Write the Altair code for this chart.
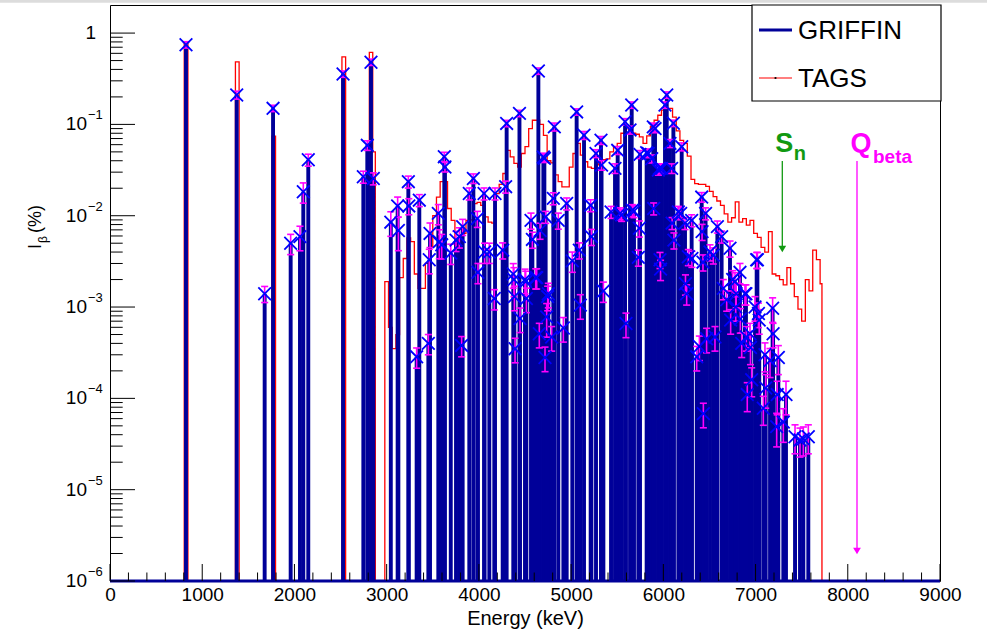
import altair as alt
import pandas as pd

FONT = "Liberation Sans"
NAVY = "#000099"
FLOOR = 1e-6

# ---------------- GRIFFIN beta feeding (energy keV, intensity %, relative error)
G_E = [824, 1374, 1677, 1768, 1959, 2060, 2096, 2150, 2527, 2747, 2790, 2830, 2855,
       3045, 3119, 3127, 3235, 3240, 3325, 3354, 3452, 3462, 3470, 3560, 3571, 3597,
       3625, 3632, 3695, 3752, 3788, 3813, 3824, 3896, 3940, 3983, 3990, 4056, 4062,
       4113, 4167, 4175, 4258, 4290, 4301, 4373, 4380, 4385, 4392, 4440, 4446, 4500,
       4508, 4515, 4565, 4580, 4616, 4627, 4645, 4655, 4663, 4699, 4710, 4717, 4724,
       4735, 4746, 4753, 4789, 4807, 4818, 4861, 4916, 4952, 5013, 5060, 5089, 5100,
       5140, 5212, 5220, 5270, 5324, 5330, 5350, 5433, 5476, 5505, 5530, 5548, 5585,
       5595, 5639, 5657, 5664, 5682, 5729, 5740, 5747, 5819, 5837, 5874, 5891, 5895,
       5910, 5946, 5957, 5964, 5970, 5982, 6018, 6037, 6072, 6090, 6095, 6109, 6115,
       6163, 6188, 6199, 6235, 6240, 6253, 6271, 6307, 6310, 6362, 6391, 6416, 6420,
       6430, 6434, 6458, 6469, 6506, 6542, 6560, 6586, 6632, 6650, 6687, 6723, 6730,
       6752, 6777, 6785, 6790, 6831, 6835, 6850, 6885, 6896, 6900, 6910, 6940, 6945,
       6958, 6994, 7012, 7020, 7031, 7040, 7084, 7102, 7110, 7157, 7185, 7190, 7229,
       7235, 7247, 7301, 7330, 7428, 7482, 7518, 7572]
G_I = [0.745, 0.21, 1.4e-3, 0.15, 5.0e-3, 5.9e-3, 0.0183, 0.041, 0.356, 0.0267, 0.059, 0.48, 0.0256,
       8.5e-3, 0.0128, 6.9e-3, 0.0236, 0.0128, 2.85e-4, 0.0148, 4.0e-4, 3.3e-3, 6.4e-3, 0.0106, 5.2e-3, 4.8e-3,
       0.0442, 0.0342, 3.9e-3, 5.4e-3, 5.9e-3, 3.8e-4, 7.6e-3, 0.0175, 0.0256, 9.3e-3, 2.4e-3, 0.0175, 4.0e-3,
       4.0e-3, 1.24e-3, 0.0175, 4.2e-3, 0.0208, 0.1025, 2.3e-3, 2.0e-3, 1.3e-3, 3.5e-4, 0.132, 7.5e-4, 2.0e-3,
       1.9e-3, 1.24e-3, 8.9e-3, 5.5e-3, 2.1e-3, 2.1e-3, 0.384, 5.1e-4, 6.9e-3, 0.044, 0.0425, 2.8e-4, 9.7e-3,
       7.8e-4, 1.3e-3, 1.4e-3, 4.7e-4, 0.0155, 0.094, 8.9e-3, 5.9e-4, 0.0136, 3.2e-3, 0.137, 4.2e-3, 1.05e-3,
       0.076, 0.013, 5.9e-3, 0.048, 0.067, 0.0358, 1.5e-3, 0.011, 0.033, 0.052, 0.0106, 0.0102, 0.107,
       6.6e-4, 0.087, 0.163, 0.0115, 0.0112, 3.5e-3, 7.3e-3, 0.047, 0.049, 0.048, 0.042, 0.094, 0.012,
       0.090, 0.0316, 0.033, 3.3e-3, 2.6e-3, 0.033, 0.163, 0.21, 0.062, 0.033, 8.3e-3, 0.103, 5.4e-3,
       0.011, 0.0106, 0.057, 8.3e-3, 1.8e-3, 1.4e-3, 3.55e-3, 8.9e-3, 3.4e-3, 2.85e-4, 3.7e-4, 0.016, 6.7e-3,
       3.1e-3, 6.8e-5, 0.0106, 4.5e-4, 4.0e-3, 3.7e-3, 4.7e-4, 7.6e-3, 5.9e-3, 1.6e-3, 1.2e-3, 4.4e-3, 7.2e-4,
       2.0e-3, 1.9e-3, 1.0e-3, 1.4e-3, 2.4e-3, 7.4e-4, 4.0e-4, 1.4e-3, 1.4e-3, 4.7e-4, 1.1e-4, 5.1e-4, 3.6e-4,
       1.6e-4, 1.0e-3, 3.3e-3, 3.3e-3, 8.5e-4, 7.2e-4, 7.8e-5, 3.0e-4, 1.3e-4, 2.6e-4, 9.7e-4, 5.1e-4, 4.9e-5,
       1.1e-4, 2.8e-4, 5.5e-5, 1.1e-4, 3.8e-5, 3.5e-5, 3.6e-5, 3.8e-5]
G_ERR = [0.08, 0.10, 0.20, 0.08, 0.25, 0.30, 0.25, 0.15, 0.08, 0.15, 0.12, 0.08, 0.15,
         0.30, 0.25, 0.40, 0.15, 0.20, 0.25, 0.15, 0.25, 0.30, 0.30, 0.25, 0.35, 0.30,
         0.12, 0.12, 0.25, 0.25, 0.25, 0.25, 0.20, 0.15, 0.12, 0.20, 0.25, 0.15, 0.25,
         0.25, 0.25, 0.15, 0.20, 0.15, 0.08, 0.30, 0.35, 0.30, 0.30, 0.08, 0.30, 0.30,
         0.30, 0.30, 0.20, 0.20, 0.25, 0.25, 0.08, 0.30, 0.20, 0.10, 0.10, 0.30, 0.15,
         0.40, 0.30, 0.30, 0.30, 0.15, 0.10, 0.20, 0.30, 0.15, 0.25, 0.08, 0.20, 0.30,
         0.10, 0.15, 0.20, 0.10, 0.10, 0.12, 0.25, 0.15, 0.12, 0.10, 0.15, 0.15, 0.08,
         0.30, 0.10, 0.08, 0.15, 0.15, 0.20, 0.20, 0.10, 0.10, 0.10, 0.10, 0.10, 0.15,
         0.10, 0.12, 0.12, 0.20, 0.25, 0.12, 0.08, 0.08, 0.10, 0.12, 0.15, 0.08, 0.20,
         0.15, 0.15, 0.10, 0.15, 0.25, 0.25, 0.20, 0.15, 0.20, 0.30, 0.30, 0.12, 0.20,
         0.20, 0.30, 0.15, 0.30, 0.20, 0.20, 0.30, 0.15, 0.15, 0.25, 0.25, 0.20, 0.30,
         0.25, 0.25, 0.30, 0.30, 0.25, 0.30, 0.30, 0.25, 0.25, 0.30, 0.35, 0.30, 0.35,
         0.35, 0.30, 0.20, 0.20, 0.30, 0.30, 0.35, 0.35, 0.40, 0.35, 0.30, 0.30, 0.40,
         0.40, 0.35, 0.40, 0.40, 0.35, 0.35, 0.35, 0.35]

# ---------------- TAGS histogram
TAGS_PEAK_LO = [805, 1360, 1755, 2515, 2812, 2849]
TAGS_PEAK_HI = [845, 1400, 1795, 2555, 2849, 2877]
TAGS_PEAK_I = [0.78, 0.485, 0.0745, 0.55, 0.615, 0.05]
TAGS_START = 2980
TAGS_WIDTH = 40
TAGS_END = 7720
TAGS_I = [
    1.9e-3, 6e-4, 3.5e-4, 5e-4, 2.1e-3, 3.4e-3, 5.7e-3, 5.2e-3, 2.3e-3, 1.6e-3,
    1.6e-3, 3.0e-3, 4.6e-3, 0.010, 0.016, 0.0236, 0.0236, 0.012, 8.9e-3, 3.6e-3,
    4.5e-3, 6.4e-3, 8.9e-3, 9.0e-3, 0.0136, 0.014, 0.013, 9.7e-3, 8.5e-3, 8.3e-3,
    0.0175, 0.022, 0.029, 0.052, 0.044, 0.0375, 0.034, 0.048, 0.057, 0.090,
    0.111, 0.111, 0.100, 0.076, 0.040, 0.038, 0.028, 0.0236, 0.0207, 0.0207,
    0.034, 0.048, 0.062, 0.046, 0.039, 0.034, 0.033, 0.036, 0.040, 0.041,
    0.042, 0.050, 0.057, 0.062, 0.080, 0.094, 0.088, 0.080, 0.078, 0.073,
    0.062, 0.075, 0.095, 0.111, 0.126, 0.143, 0.150, 0.150, 0.120, 0.085,
    0.067, 0.062, 0.045, 0.025, 0.0225, 0.022, 0.022, 0.021, 0.0185, 0.0162,
    0.0145, 0.013, 0.0105, 8.5e-3, 9.5e-3, 0.0142, 8.5e-3, 9.3e-3, 7.9e-3, 8.9e-3,
    6.4e-3, 5.8e-3, 4.5e-3, 4.0e-3, 6.7e-3, 2.3e-3, 2.2e-3, 2.0e-3, 1.75e-3, 2.7e-3,
    1.8e-3, 1.3e-3, 9.5e-4, 7.0e-4, 2.0e-3, 1.5e-3, 4.2e-3, 3.3e-3, 1.8e-3,
]

SN_E = 7290
QB_E = 8100

X_MAJOR = [0, 1000, 2000, 3000, 4000, 5000, 6000, 7000, 8000, 9000]
X_MINOR_STEP = 200
Y_DECADES = [1, 0.1, 0.01, 1e-3, 1e-4, 1e-5, 1e-6]
Y_EXP = ["", "\u22121", "\u22122", "\u22123", "\u22124", "\u22125", "\u22126"]
Y_MINOR_MULT = [2, 3, 4, 5, 6, 7, 8, 9]

# ---------------- tables
g = pd.DataFrame({"E": G_E, "I": G_I, "r": G_ERR})
g["lo"] = g["I"] * (1 - g["r"])
g["hi"] = g["I"] * (1 + g["r"])
g["floor"] = FLOOR

tE, tI = [0], [FLOOR]
for k, (lo, hi, v) in enumerate(zip(TAGS_PEAK_LO, TAGS_PEAK_HI, TAGS_PEAK_I)):
    tE.append(lo); tI.append(v)
    nxt = TAGS_PEAK_LO[k + 1] if k + 1 < len(TAGS_PEAK_LO) else None
    if nxt != hi:
        tE.append(hi); tI.append(FLOOR)
for i, v in enumerate(TAGS_I):
    tE.append(TAGS_START + TAGS_WIDTH * i); tI.append(v)
tE += [TAGS_END, 9000]; tI += [FLOOR, FLOOR]
tags = pd.DataFrame({"E": tE, "I": tI})

xmaj = pd.DataFrame({"t": X_MAJOR})
xmin = pd.DataFrame({"t": [t for t in range(0, 9001, X_MINOR_STEP) if t % 1000 != 0]})
ymaj = pd.DataFrame({"v": Y_DECADES, "exp": Y_EXP})
ymin = pd.DataFrame({"v": [m * d for d in Y_DECADES[1:] for m in Y_MINOR_MULT]})
one = pd.DataFrame({"a": [0]})
base = pd.DataFrame({"E": [0, 9000], "y": [FLOOR, FLOOR]})

xs = alt.Scale(domain=[0, 9000], nice=False, zero=False)
ys = alt.Scale(type="log", domain=[1e-6, 2.03], nice=False)
XAX = alt.Axis(values=X_MAJOR, format="d", labelFont=FONT, labelFontSize=19,
               labelColor="black", labelPadding=4, labelFlush=False, labelOverlap=False,
               ticks=False, tickSize=0, domain=False, grid=False,
               title="Energy (keV)", titleFont=FONT, titleFontSize=20,
               titleFontWeight="normal", titleColor="black", titleY=37,
               titleBaseline="middle")


def X(f):
    return alt.X(f, type="quantitative", scale=xs, axis=XAX)


def Y(f):
    return alt.Y(f, type="quantitative", scale=ys, axis=None)


strip = alt.Chart(one).mark_rect(color="#dcdcdc").encode(
    x=alt.value(-110), x2=alt.value(877), y=alt.value(-5), y2=alt.value(-2.3))

tags_line = alt.Chart(tags).mark_line(interpolate="step-after", color="#ff0000",
                                      strokeWidth=1.3).encode(x=X("E"), y=Y("I"))

bars = alt.Chart(g).mark_rule(color=NAVY, strokeWidth=3.9).encode(
    x=X("E"), y=Y("floor"), y2="I")

baseline = alt.Chart(base).mark_line(color=NAVY, strokeWidth=3).encode(x=X("E"), y=Y("y"))

err = alt.Chart(g).mark_rule(color="#ff00ff", strokeWidth=1.6).encode(
    x=X("E"), y=Y("lo"), y2="hi")
cap_lo = alt.Chart(g).mark_point(shape="M-1,0L1,0", size=50, filled=False,
                                 color="#ff00ff", strokeWidth=1.6, opacity=1).encode(
    x=X("E"), y=Y("lo"))
cap_hi = alt.Chart(g).mark_point(shape="M-1,0L1,0", size=50, filled=False,
                                 color="#ff00ff", strokeWidth=1.6, opacity=1).encode(
    x=X("E"), y=Y("hi"))
marks = alt.Chart(g).mark_point(shape="M-1,-1L1,1M-1,1L1,-1", size=160, filled=False,
                                color="#0000ff", strokeWidth=1.8, opacity=1).encode(
    x=X("E"), y=Y("I"))

xt_maj = alt.Chart(xmaj).mark_rule(color="black", strokeWidth=1).encode(
    x=X("t"), y=alt.value(576), y2=alt.value(559))
xt_min = alt.Chart(xmin).mark_rule(color="black", strokeWidth=1).encode(
    x=X("t"), y=alt.value(576), y2=alt.value(567.5))
yt_maj = alt.Chart(ymaj).mark_rule(color="black", strokeWidth=1).encode(
    y=Y("v"), x=alt.value(0), x2=alt.value(25))
yt_min = alt.Chart(ymin).mark_rule(color="black", strokeWidth=1).encode(
    y=Y("v"), x=alt.value(0), x2=alt.value(12.7))

ylab_one = alt.Chart(ymaj[ymaj["exp"] == ""]).mark_text(
    text="1", align="right", baseline="middle", font=FONT, fontSize=19, color="black"
).encode(y=Y("v"), x=alt.value(-14))
ylab_ten = alt.Chart(ymaj[ymaj["exp"] != ""]).mark_text(
    text="10", align="right", baseline="middle", font=FONT, fontSize=19, color="black"
).encode(y=Y("v"), x=alt.value(-23))
ylab_exp = alt.Chart(ymaj[ymaj["exp"] != ""]).mark_text(
    align="left", baseline="middle", font=FONT, fontSize=13, color="black", dy=-9
).encode(y=Y("v"), x=alt.value(-22), text="exp:N")

yt1 = alt.Chart(one).mark_text(text="I", angle=270, align="left", baseline="alphabetic",
                               font=FONT, fontSize=18, color="black").encode(
    x=alt.value(-69), y=alt.value(244))
yt2 = alt.Chart(one).mark_text(text="\u03b2", angle=270, align="left", baseline="alphabetic",
                               font=FONT, fontSize=12, color="black").encode(
    x=alt.value(-63), y=alt.value(238))
yt3 = alt.Chart(one).mark_text(text="(%)", angle=270, align="left", baseline="alphabetic",
                               font=FONT, fontSize=18, color="black").encode(
    x=alt.value(-69), y=alt.value(228))

# legend
leg_box = alt.Chart(one).mark_rect(fill="white", stroke="black", strokeWidth=1.2).encode(
    x=alt.value(642), x2=alt.value(831), y=alt.value(0), y2=alt.value(96))
leg_g = alt.Chart(one).mark_rule(color=NAVY, strokeWidth=3).encode(
    x=alt.value(649), x2=alt.value(682), y=alt.value(25))
leg_t = alt.Chart(one).mark_rule(color="#ff0000", strokeWidth=1.2).encode(
    x=alt.value(649), x2=alt.value(682), y=alt.value(73))
leg_dot = alt.Chart(one).mark_point(shape="circle", size=5, filled=True, color="black",
                                    opacity=1).encode(x=alt.value(665.5), y=alt.value(73))
leg_gt = alt.Chart(one).mark_text(text="GRIFFIN", align="left", baseline="middle",
                                  font=FONT, fontSize=26, color="black").encode(
    x=alt.value(688), y=alt.value(26))
leg_tt = alt.Chart(one).mark_text(text="TAGS", align="left", baseline="middle",
                                  font=FONT, fontSize=26, color="black").encode(
    x=alt.value(688), y=alt.value(73.5))

# S_n and Q_beta arrows
GREEN = "#119911"
MAG = "#ff00ff"
sn = pd.DataFrame({"E": [SN_E]})
qb = pd.DataFrame({"E": [QB_E]})
sn_line = alt.Chart(sn).mark_rule(color=GREEN, strokeWidth=1.3).encode(
    x=X("E"), y=alt.value(156), y2=alt.value(242))
sn_head = alt.Chart(sn).mark_point(shape="triangle-down", size=60, filled=True,
                                   color=GREEN, opacity=1).encode(x=X("E"), y=alt.value(244))
sn_s = alt.Chart(sn).mark_text(text="S", align="left", baseline="alphabetic", font=FONT,
                               fontSize=27, fontWeight="bold", color=GREEN, dx=-7).encode(
    x=X("E"), y=alt.value(146.5))
sn_n = alt.Chart(sn).mark_text(text="n", align="left", baseline="alphabetic", font=FONT,
                               fontSize=20, fontWeight="bold", color=GREEN, dx=11.5).encode(
    x=X("E"), y=alt.value(154.5))
qb_line = alt.Chart(qb).mark_rule(color=MAG, strokeWidth=1.3).encode(
    x=X("E"), y=alt.value(156), y2=alt.value(544))
qb_head = alt.Chart(qb).mark_point(shape="triangle-down", size=60, filled=True,
                                   color=MAG, opacity=1).encode(x=X("E"), y=alt.value(546))
qb_q = alt.Chart(qb).mark_text(text="Q", align="left", baseline="alphabetic", font=FONT,
                               fontSize=27, fontWeight="bold", color=MAG, dx=-6.5).encode(
    x=X("E"), y=alt.value(146.5))
qb_b = alt.Chart(qb).mark_text(text="beta", align="left", baseline="alphabetic", font=FONT,
                               fontSize=19, fontWeight="bold", color=MAG, dx=16).encode(
    x=X("E"), y=alt.value(158))

chart = alt.layer(
    strip, tags_line, bars, baseline, err, cap_lo, cap_hi, marks,
    xt_maj, xt_min, yt_maj, yt_min, ylab_one, ylab_ten, ylab_exp, yt1, yt2, yt3,
    leg_box, leg_g, leg_t, leg_dot, leg_gt, leg_tt,
    sn_line, sn_head, sn_s, sn_n, qb_line, qb_head, qb_q, qb_b,
).properties(
    width=830, height=576,
    padding={"left": 110, "top": 5, "right": 47, "bottom": 49},
    autosize=alt.AutoSizeParams(type="none"),
    background="white",
).configure_view(stroke="black", strokeWidth=1)

chart.save("out.html", embed_options={"renderer": "svg", "actions": False})
